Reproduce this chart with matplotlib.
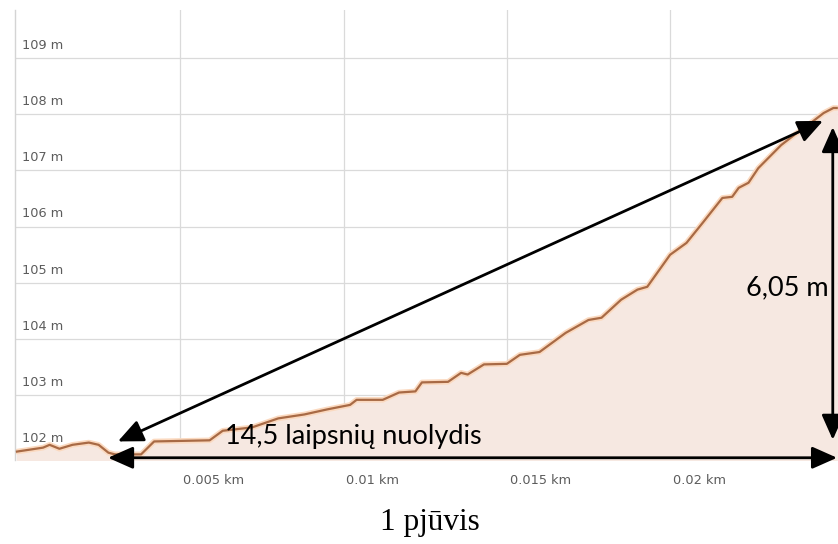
import matplotlib.pyplot as plt
import matplotlib.transforms as mtransforms

# elevation profile
dist_km = [0.0, 0.0008, 0.0010, 0.0013, 0.0017, 0.0022, 0.0025, 0.0028, 0.0030,
           0.0038, 0.0042, 0.0059, 0.0063, 0.0072, 0.0080, 0.0088, 0.0095, 0.0102,
           0.0104, 0.0112, 0.0117, 0.0122, 0.0124, 0.0132, 0.0136, 0.0138, 0.0143,
           0.0150, 0.0154, 0.0160, 0.0168, 0.0175, 0.0179, 0.0185, 0.0190, 0.0193,
           0.0200, 0.0205, 0.0210, 0.0216, 0.0219, 0.0221, 0.0224, 0.0227, 0.0234,
           0.0238, 0.0243, 0.0247, 0.0250, 0.0251]
elev_m = [102.00, 102.07, 102.12, 102.05, 102.12, 102.16, 102.12, 101.98, 101.95,
          101.95, 102.18, 102.20, 102.37, 102.43, 102.59, 102.66, 102.75, 102.83,
          102.92, 102.92, 103.05, 103.07, 103.23, 103.24, 103.40, 103.37, 103.55,
          103.56, 103.72, 103.77, 104.11, 104.34, 104.38, 104.70, 104.88, 104.93,
          105.50, 105.71, 106.07, 106.51, 106.53, 106.69, 106.78, 107.04, 107.45,
          107.63, 107.84, 108.02, 108.11, 108.11]

y_ticks = [102, 103, 104, 105, 106, 107, 108, 109]
y_labels = ["102 m", "103 m", "104 m", "105 m", "106 m", "107 m", "108 m", "109 m"]
x_ticks = [0.005, 0.01, 0.015, 0.02]
x_labels = ["0.005 km", "0.01 km", "0.015 km", "0.02 km"]

slope_text = "14,5 laipsnių nuolydis"
height_text = "6,05 m"
caption = "1 pjūvis"

fig = plt.figure(figsize=(8.38, 5.44), dpi=100)
ax = fig.add_axes([0.0179, 0.1544, 0.9821, 0.827])
ax.set_xlim(-0.00006, 0.02514)
ax.set_ylim(101.85, 109.85)

# grid + frame
for s in ["top", "right", "bottom"]:
    ax.spines[s].set_visible(False)
ax.spines["left"].set_color("#d4d4d4")
ax.spines["left"].set_linewidth(1.0)
ax.set_xticks(x_ticks)
ax.set_yticks(y_ticks)
ax.tick_params(length=0, labelleft=False, labelbottom=False)
ax.grid(True, color="#dadada", linewidth=0.9)
ax.set_axisbelow(True)

# profile
ax.fill_between(dist_km, elev_m, 101.85, color="#f6e8e1", zorder=1)
ax.plot(dist_km, elev_m, color="#fbd9bf", lw=4.0, zorder=2, solid_capstyle="round")
ax.plot(dist_km, elev_m, color="#a86a45", lw=1.6, zorder=3)

# tick labels drawn inside the plot
tick_font = dict(fontsize=9.3, color="#5c5c5c", family="DejaVu Sans")
for val, lab in zip(y_ticks, y_labels):
    tr = mtransforms.offset_copy(ax.get_yaxis_transform(), fig=fig, x=5, y=4.5, units="points")
    ax.text(0, val, lab, transform=tr, ha="left", va="bottom", **tick_font)
for val, lab in zip(x_ticks, x_labels):
    tr = mtransforms.offset_copy(ax.get_xaxis_transform(), fig=fig, x=2, y=-15, units="points")
    ax.text(val, 0, lab, transform=tr, ha="left", va="center", clip_on=False, **tick_font)

# arrows
arrow = dict(arrowstyle="<|-|>,head_length=0.9,head_width=0.4", color="black",
             lw=2.0, shrinkA=0, shrinkB=0, mutation_scale=17)
ax.annotate("", xy=(0.02468, 107.88), xytext=(0.00309, 102.18),
            arrowprops=arrow, annotation_clip=False, zorder=5)
ax.annotate("", xy=(0.02511, 101.89), xytext=(0.00279, 101.89),
            arrowprops=arrow, annotation_clip=False, zorder=5)
ax.annotate("", xy=(0.02498, 107.77), xytext=(0.02498, 102.21),
            arrowprops=arrow, annotation_clip=False, zorder=5)

ax.text(0.00637, 102.27, slope_text, fontsize=19.5, family="Lato",
        ha="left", va="center", zorder=6)
ax.text(0.02485, 104.91, height_text, fontsize=19.5, family="Lato",
        ha="right", va="center", zorder=6)

fig.text(0.513, 0.040, caption, fontsize=22.5, family="Liberation Serif",
         ha="center", va="center")

fig.savefig("out.png", dpi=100)
